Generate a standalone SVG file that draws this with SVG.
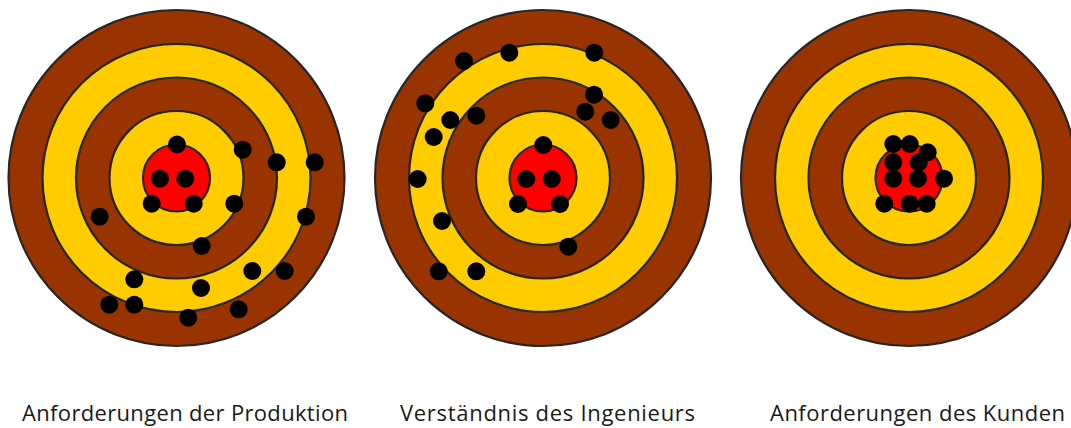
<svg xmlns="http://www.w3.org/2000/svg" width="1071" height="428" viewBox="0 0 1071 428">
<style>
.b{fill:#993300;stroke:#262626;stroke-width:2.2}
.y{fill:#ffcc00;stroke:#262626;stroke-width:2.2}
.r{fill:#ff0000;stroke:#262626;stroke-width:2.2}
.d{fill:#000}
.t{font-family:"Open Sans","Liberation Sans",sans-serif;font-size:22px;fill:#1a1a1a}
</style>
<defs>
<g id="target">
<circle class="b" r="168"/>
<circle class="y" r="134"/>
<circle class="b" r="100.5"/>
<circle class="y" r="67"/>
<circle class="r" r="33.5"/>
</g>
</defs>
<rect width="1071" height="428" fill="#fff"/>
<g id="target1">
<use href="#target" x="176.5" y="178"/>
<g class="d">
<circle cx="177" cy="144.5" r="9"/><circle cx="160" cy="178.7" r="9"/><circle cx="185.3" cy="178.7" r="9"/>
<circle cx="151.7" cy="203.7" r="9"/><circle cx="193.7" cy="203.7" r="9"/><circle cx="242.7" cy="149.7" r="9"/>
<circle cx="276.7" cy="162.3" r="9"/><circle cx="314.7" cy="162.3" r="9"/><circle cx="234.3" cy="203.7" r="9"/>
<circle cx="306" cy="216.7" r="9"/><circle cx="99.7" cy="216.7" r="9"/><circle cx="201.7" cy="246" r="9"/>
<circle cx="134.3" cy="279.3" r="9"/><circle cx="252.3" cy="271" r="9"/><circle cx="284.7" cy="271" r="9"/>
<circle cx="201" cy="288" r="9"/><circle cx="109.3" cy="304.7" r="9"/><circle cx="134.3" cy="304.7" r="9"/>
<circle cx="188.3" cy="317.7" r="9"/><circle cx="238.7" cy="309.3" r="9"/>
</g>
</g>
<g id="target2">
<use href="#target" x="543" y="178"/>
<g class="d">
<circle cx="464" cy="61" r="9"/><circle cx="509.3" cy="52.7" r="9"/><circle cx="594.3" cy="52.7" r="9"/>
<circle cx="425.3" cy="103.3" r="9"/><circle cx="594" cy="94.7" r="9"/><circle cx="450.3" cy="120" r="9"/>
<circle cx="476.3" cy="115.7" r="9"/><circle cx="585.3" cy="111.7" r="9"/><circle cx="610.7" cy="120" r="9"/>
<circle cx="433.7" cy="137" r="9"/><circle cx="543.3" cy="145" r="9"/><circle cx="526.3" cy="179" r="9"/>
<circle cx="551.7" cy="179" r="9"/><circle cx="417.7" cy="179" r="9"/><circle cx="518" cy="204" r="9"/>
<circle cx="560" cy="204" r="9"/><circle cx="442" cy="221" r="9"/><circle cx="568.3" cy="246.7" r="9"/>
<circle cx="438.7" cy="271.3" r="9"/><circle cx="476.3" cy="271.3" r="9"/>
</g>
</g>
<g id="target3">
<use href="#target" x="909" y="178"/>
<g class="d">
<circle cx="893.3" cy="144" r="9"/><circle cx="909.7" cy="144" r="9"/><circle cx="927.7" cy="152.3" r="9"/>
<circle cx="893.3" cy="162.3" r="9"/><circle cx="918.7" cy="162.3" r="9"/><circle cx="893.3" cy="178.7" r="9"/>
<circle cx="918" cy="178.7" r="9"/><circle cx="944" cy="178.7" r="9"/><circle cx="884.3" cy="203.7" r="9"/>
<circle cx="909.7" cy="203.7" r="9"/><circle cx="926.7" cy="203.7" r="9"/>
</g>
</g>
<g id="labels">
<text class="t" x="22" y="421" textLength="326" lengthAdjust="spacing">Anforderungen der Produktion</text>
<text class="t" x="400" y="421" textLength="295" lengthAdjust="spacing">Verständnis des Ingenieurs</text>
<text class="t" x="770" y="421" textLength="295" lengthAdjust="spacing">Anforderungen des Kunden</text>
</g>
</svg>
